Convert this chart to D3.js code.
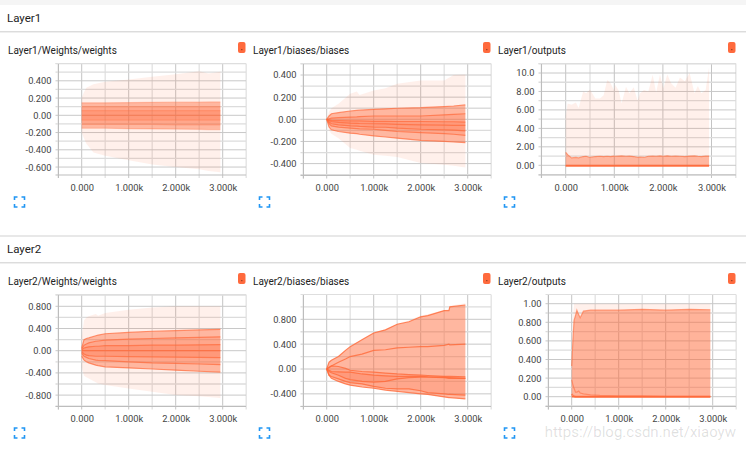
<!DOCTYPE html>
<html><head><meta charset="utf-8">
<script src="https://cdn.jsdelivr.net/npm/d3@7"></script>
<style>
html,body{margin:0;padding:0;background:#fff;width:746px;height:450px;overflow:hidden}
text{font-family:Roboto,"Liberation Sans",sans-serif}
</style></head><body><svg id="c" width="746" height="450"></svg>
<script>
const sectionNames = ["Layer1","Layer2"];
const xTickValues = [0,1000,2000,3000];
const xTickLabels = ["0.000","1.000k","2.000k","3.000k"];

// Layer1/Weights/weights
const w1Steps = [0,50,100,250,500,1000,1500,2000,2500,2700,2950];
const w1Max = [0.2,0.27,0.32,0.36,0.39,0.415,0.447,0.475,0.51,0.485,0.505];
const w1P93 = [0.145,0.145,0.145,0.145,0.145,0.148,0.15,0.152,0.154,0.155,0.155];
const w1P84 = [0.1,0.1,0.1,0.1,0.1,0.1,0.1,0.1,0.1,0.1,0.1];
const w1P69 = [0.055,0.055,0.055,0.055,0.055,0.055,0.055,0.055,0.055,0.055,0.055];
const w1P50 = [0,0,0,0,0,0,0,0,0,0,0];
const w1P31 = [-0.055,-0.055,-0.055,-0.055,-0.055,-0.055,-0.055,-0.055,-0.055,-0.055,-0.055];
const w1P16 = [-0.105,-0.105,-0.105,-0.105,-0.105,-0.105,-0.105,-0.11,-0.11,-0.11,-0.11];
const w1P7 = [-0.15,-0.15,-0.15,-0.15,-0.15,-0.155,-0.158,-0.16,-0.163,-0.165,-0.165];
const w1Min = [-0.2,-0.27,-0.33,-0.43,-0.47,-0.52,-0.57,-0.6,-0.625,-0.645,-0.66];

// Layer1/biases/biases
const b1Steps = [0,50,100,250,500,640,700,1000,1250,1500,2000,2500,2700,2950];
const b1Max = [0,0.07,0.1,0.14,0.23,0.25,0.22,0.26,0.28,0.32,0.35,0.35,0.4,0.405];
const b1P93 = [0,0.03,0.05,0.06,0.075,0.08,0.082,0.09,0.095,0.1,0.105,0.115,0.12,0.13];
const b1P84 = [0,0.005,0.01,0.015,0.02,0.022,0.025,0.03,0.03,0.03,0.03,0.04,0.045,0.05];
const b1P69 = [0,-0.005,-0.01,-0.012,-0.015,-0.015,-0.015,-0.018,-0.018,-0.02,-0.02,-0.022,-0.022,-0.025];
const b1P50 = [0,-0.012,-0.02,-0.028,-0.035,-0.037,-0.038,-0.04,-0.042,-0.045,-0.05,-0.052,-0.054,-0.055];
const b1P31 = [0,-0.025,-0.04,-0.05,-0.06,-0.062,-0.064,-0.07,-0.072,-0.08,-0.09,-0.095,-0.098,-0.105];
const b1P16 = [0,-0.04,-0.06,-0.07,-0.08,-0.085,-0.087,-0.09,-0.1,-0.11,-0.12,-0.13,-0.135,-0.145];
const b1P7 = [0,-0.07,-0.095,-0.11,-0.125,-0.13,-0.135,-0.15,-0.16,-0.17,-0.19,-0.2,-0.205,-0.21];
const b1Min = [0,-0.1,-0.13,-0.17,-0.26,-0.275,-0.285,-0.32,-0.33,-0.34,-0.395,-0.41,-0.42,-0.435];

// Layer1/outputs
const o1Steps = [0,40,120,210,265,360,420,500,610,705,780,855,925,990,1020,1090,1150,1240,1310,1400,1480,1530,1610,1700,1790,1860,1940,2010,2090,2170,2260,2350,2450,2550,2650,2720,2790,2880,2950];
const o1Max = [5.3,6.7,6.55,6.8,6.2,8.0,7.8,8.2,7.25,7.25,7.6,9.25,8.9,8.15,8.7,8.1,6.7,8.5,7.8,8.45,7,7.8,8.15,8.0,9.8,7.9,9.85,8.35,9.85,8.9,8.4,9.5,9.1,10,7.8,8.6,7.8,8.15,10.6];
const o1P93 = [1.4,1.15,0.8,0.85,0.8,0.95,0.98,0.85,0.95,0.98,0.95,0.98,0.95,1.0,0.98,1.0,1.02,0.98,1.0,0.95,0.85,0.9,0.85,0.98,1.0,0.98,1.02,0.98,1.03,0.98,1.0,0.98,0.95,1.0,1.02,0.98,0.95,1.0,1.0];
const o1P50 = o1Steps.map(() => 0);
const o1Min = o1Steps.map(() => -0.1);

// Layer2/Weights/weights
const w2Steps = [0,50,100,150,300,350,500,1000,1500,2000,2500,2950];
const w2Max = [0.25,0.55,0.6,0.62,0.66,0.63,0.68,0.74,0.78,0.8,0.8,0.8];
const w2P93 = [0.05,0.2,0.22,0.23,0.27,0.28,0.305,0.33,0.35,0.36,0.375,0.385];
const w2P84 = [0.03,0.1,0.12,0.14,0.17,0.175,0.19,0.21,0.22,0.23,0.24,0.25];
const w2P69 = [0.01,0.05,0.06,0.07,0.08,0.08,0.09,0.09,0.1,0.1,0.105,0.11];
const w2P50 = [0,0,0,0,0,0,0,0,0,0,0,0];
const w2P31 = [-0.02,-0.06,-0.08,-0.09,-0.1,-0.1,-0.1,-0.105,-0.11,-0.115,-0.12,-0.125];
const w2P16 = [-0.05,-0.1,-0.12,-0.14,-0.17,-0.175,-0.18,-0.2,-0.22,-0.23,-0.24,-0.25];
const w2P7 = [-0.1,-0.17,-0.2,-0.22,-0.26,-0.27,-0.29,-0.31,-0.33,-0.35,-0.37,-0.385];
const w2Min = [-0.3,-0.45,-0.48,-0.5,-0.57,-0.59,-0.62,-0.68,-0.74,-0.8,-0.82,-0.85];

// Layer2/biases/biases
const b2Steps = [0,50,100,250,400,500,750,1000,1250,1500,1750,2000,2150,2500,2600,2620,2950];
const b2Max = [0,0.12,0.15,0.21,0.31,0.37,0.48,0.59,0.64,0.73,0.78,0.86,0.88,0.95,0.96,1.02,1.06];
const b2P93 = [0,0.11,0.14,0.2,0.3,0.36,0.47,0.58,0.63,0.72,0.76,0.84,0.86,0.94,0.94,1.0,1.03];
const b2P84 = [0,0.02,0.05,0.11,0.16,0.2,0.24,0.3,0.31,0.34,0.35,0.36,0.36,0.38,0.4,0.39,0.4];
const b2P69 = [0,0.03,0.05,0.04,0.01,-0.02,-0.04,-0.05,-0.065,-0.08,-0.09,-0.1,-0.105,-0.12,-0.12,-0.12,-0.125];
const b2P50 = [0,-0.02,-0.04,-0.045,-0.05,-0.05,-0.08,-0.1,-0.11,-0.12,-0.12,-0.12,-0.125,-0.13,-0.14,-0.14,-0.15];
const b2P31 = [0,-0.04,-0.06,-0.1,-0.15,-0.17,-0.2,-0.21,-0.2,-0.16,-0.14,-0.13,-0.13,-0.14,-0.15,-0.15,-0.15];
const b2P16 = [0,-0.1,-0.12,-0.16,-0.2,-0.22,-0.24,-0.28,-0.31,-0.32,-0.32,-0.35,-0.38,-0.4,-0.41,-0.41,-0.42];
const b2P7 = [0,-0.1,-0.15,-0.2,-0.24,-0.26,-0.29,-0.31,-0.34,-0.36,-0.38,-0.4,-0.41,-0.45,-0.46,-0.46,-0.48];
const b2Min = [0,-0.1,-0.15,-0.2,-0.24,-0.26,-0.29,-0.31,-0.34,-0.36,-0.38,-0.4,-0.41,-0.45,-0.46,-0.46,-0.48];

// Layer2/outputs
const o2Steps = [0,25,50,80,110,150,180,250,400,600,1000,1500,2000,2500,2950];
const o2Max = [0.33,0.85,1,1,1,1,1,1,1,1,1,1,1,1,1];
const o2P93 = [0.33,0.6,0.82,0.87,0.93,0.88,0.85,0.92,0.93,0.93,0.93,0.94,0.93,0.94,0.935];
const o2P16 = [0.18,0.13,0.09,0.05,0.05,0.06,0.04,0.03,0.02,0.015,0.01,0.01,0.005,0.005,0.005];
const o2P7 = [0.03,0.01,0.005,0,0,0,0,0,0,0,0,0,0,0,0];
const o2Min = [0,0,0,0,0,0,0,0,0,0,0,0,0,0,0];

const weightTicks = [-0.6,-0.4,-0.2,0,0.2,0.4];
const weightLabels = ["-0.600","-0.400","-0.200","0.00","0.200","0.400"];
const biasTicks = [-0.4,-0.2,0,0.2,0.4];
const biasLabels = ["-0.400","-0.200","0.00","0.200","0.400"];
const outTicks = [0,2,4,6,8,10];
const outLabels = ["0.00","2.00","4.00","6.00","8.00","10.0"];
const w2Ticks = [-0.8,-0.4,0,0.4,0.8];
const w2Labels = ["-0.800","-0.400","0.00","0.400","0.800"];
const b2Ticks = [-0.4,0,0.4,0.8];
const b2Labels = ["-0.400","0.00","0.400","0.800"];
const o2Ticks = [0,0.2,0.4,0.6,0.8,1];
const o2Labels = ["0.00","0.200","0.400","0.600","0.800","1.00"];

const svg = d3.select("#c");
const INK = "#ff6a3a";

// page background and section headers
const hdrTop = [6,237];
svg.append("rect").attr("width",746).attr("height",5).attr("fill","#f5f5f5");
sectionNames.forEach((s,i)=>{
  if(i) svg.append("rect").attr("x",0).attr("y",hdrTop[i]-2).attr("width",746).attr("height",2).attr("fill","#e8e8e8");
  svg.append("rect").attr("x",0).attr("y",hdrTop[i]+25).attr("width",746).attr("height",1).attr("fill","#dcdcdc");
  svg.append("rect").attr("x",0).attr("y",hdrTop[i]+26).attr("width",746).attr("height",1).attr("fill","#efefef");
  svg.append("text").attr("x",7).attr("y",hdrTop[i]+16).attr("font-size",11.5).attr("fill","#222").text(s);
});

function panel(o){
  const x = d3.scaleLinear().domain([0,1000]).range([o.x0,o.x1000]);
  const y = d3.scaleLinear().domain([o.v0,o.v1]).range([o.y0,o.y1]);
  const L=o.left,R=o.right,T=o.top,B=o.bottom;
  const g = svg.append("g");
  g.append("text").attr("x",o.titleX).attr("y",o.titleY).attr("font-size",10).attr("fill","#222").text(o.title);
  // grid: minor then major
  const xv = d3.range(-500,3501,500).filter(v=>x(v)>=L-1&&x(v)<=R+1);
  xv.forEach(v=>{
    const major=v%1000===0;
    g.append("line").attr("x1",x(v)).attr("x2",x(v)).attr("y1",T).attr("y2",B+3)
     .attr("stroke",major?"#c4c4c4":"#e4e4e4").attr("stroke-width",major?1:1.4);
  });
  const step=o.ticks[1]-o.ticks[0];
  const minor=[];
  for(let v=o.ticks[0]-step*2;v<=o.ticks[o.ticks.length-1]+step*2+1e-9;v+=step/2){
    const p=y(v); if(p>=T&&p<=B) minor.push(v);
  }
  minor.forEach(v=>{
    const isMajor=o.ticks.some(t=>Math.abs(t-v)<1e-6);
    g.append("line").attr("x1",L-3).attr("x2",R).attr("y1",y(v)).attr("y2",y(v))
     .attr("stroke",isMajor?"#c8c8c8":"#dcdcdc").attr("stroke-width",isMajor?1:1.3);
  });
  g.append("line").attr("x1",L).attr("x2",L).attr("y1",T).attr("y2",B+3).attr("stroke","#bdbdbd");
  g.append("line").attr("x1",L-3).attr("x2",R).attr("y1",T).attr("y2",T).attr("stroke","#dedede");
  g.append("line").attr("x1",L-3).attr("x2",R).attr("y1",B).attr("y2",B).attr("stroke","#bdbdbd");
  // bands
  const s=o.steps;
  const area=(a,b)=>d3.area().x((d,i)=>x(s[i])).y0((d,i)=>y(a[i])).y1((d,i)=>y(b[i]));
  o.bands.forEach(b=>{
    g.append("path").attr("d",area(b.lo,b.hi)(s)).attr("fill",INK).attr("fill-opacity",b.op);
  });
  const line=a=>d3.line().x((d,i)=>x(s[i])).y((d,i)=>y(a[i]));
  o.lines.forEach(l=>{
    g.append("path").attr("d",line(l.v)(s)).attr("fill","none").attr("stroke",INK).attr("stroke-opacity",l.op).attr("stroke-width",l.w||1.2);
  });
  // axes labels
  const yAxis=d3.axisLeft(y).tickValues(o.ticks).tickFormat((d,i)=>o.labels[i]).tickSize(0).tickPadding(0);
  const ya=g.append("g").attr("transform",`translate(${L-7},0)`).call(yAxis);
  ya.select(".domain").remove();
  ya.selectAll("text").attr("font-size",9.3).attr("fill","#444").style("font-family","Roboto,sans-serif");
  const xAxis=d3.axisBottom(x).tickValues(xTickValues).tickFormat((d,i)=>xTickLabels[i]).tickSize(0).tickPadding(0);
  const xa=g.append("g").attr("transform",`translate(0,${B+9})`).call(xAxis);
  xa.select(".domain").remove();
  xa.selectAll("text").attr("font-size",9.3).attr("fill","#444").style("font-family","Roboto,sans-serif");
  // orange run button
  g.append("rect").attr("x",o.btnX).attr("y",o.titleY-11.5).attr("width",7.5).attr("height",11).attr("rx",2).attr("fill","#ff6a3d");
  g.append("rect").attr("x",o.btnX+3.2).attr("y",o.titleY-4.5).attr("width",1.2).attr("height",1.2).attr("fill","#8a3a20");
  // blue expand icon
  const ix=o.titleX+6.5,iy=o.B2;
  const c=d3.path();
  [[0,3,0,0,3,0],[7,0,10,0,10,3],[10,7,10,10,7,10],[3,10,0,10,0,7]].forEach(p=>{
    c.moveTo(ix+p[0],iy+p[1]);c.lineTo(ix+p[2],iy+p[3]);c.lineTo(ix+p[4],iy+p[5]);
  });
  g.append("path").attr("d",c.toString()).attr("fill","none").attr("stroke","#2196f3").attr("stroke-width",1.6);
}

const colX=[
 {titleX:8,left:58.5,right:246,x0:81.7,x1000:128.7,btnX:238},
 {titleX:253,left:303.5,right:491,x0:326.7,x1000:373.7,btnX:483},
 {titleX:498,left:541.5,right:736,x0:565.7,x1000:614.3,btnX:728}
];
const bands=(mx,p93,p84,p69,p50,p31,p16,p7,mn)=>[
 {lo:mn,hi:mx,op:0.1},
 {lo:p7,hi:p93,op:0.42},
 {lo:p16,hi:p84,op:0.2},
 {lo:p31,hi:p69,op:0.22}
];
const lines=(op,...a)=>a.map(v=>({v,op}));

panel({...colX[0],title:"Layer1/Weights/weights",titleY:53.5,top:63.5,bottom:175,B2:197,
 v0:0,v1:0.4,y0:115.3,y1:80.8,ticks:weightTicks,labels:weightLabels,steps:w1Steps,
 bands:bands(w1Max,w1P93,w1P84,w1P69,w1P50,w1P31,w1P16,w1P7,w1Min),
 lines:lines(0.3,w1P93,w1P84,w1P69,w1P50,w1P31,w1P16,w1P7)});
panel({...colX[1],title:"Layer1/biases/biases",titleY:53.5,top:63.5,bottom:175.5,B2:197,
 v0:0,v1:0.4,y0:119.3,y1:75,ticks:biasTicks,labels:biasLabels,steps:b1Steps,
 bands:bands(b1Max,b1P93,b1P84,b1P69,b1P50,b1P31,b1P16,b1P7,b1Min),
 lines:lines(0.7,b1P93,b1P84,b1P69,b1P50,b1P31,b1P16,b1P7)});
panel({...colX[2],title:"Layer1/outputs",titleY:53.5,top:63.5,bottom:175,B2:197,
 v0:0,v1:10,y0:165.3,y1:73,ticks:outTicks,labels:outLabels,steps:o1Steps,
 bands:[{lo:o1Min,hi:o1Max,op:0.1},{lo:o1Min,hi:o1P93,op:0.42},{lo:o1Min,hi:o1P50,op:0.6}],
 lines:[{v:o1P93,op:0.6},{v:o1P50,op:0.8},{v:o1Min,op:0.8}]});

panel({...colX[0],title:"Layer2/Weights/weights",titleY:284.5,top:294.5,bottom:406.5,B2:428,
 v0:0,v1:0.8,y0:350.7,y1:306.3,ticks:w2Ticks,labels:w2Labels,steps:w2Steps,
 bands:bands(w2Max,w2P93,w2P84,w2P69,w2P50,w2P31,w2P16,w2P7,w2Min),
 lines:lines(0.7,w2P93,w2P84,w2P69,w2P50,w2P31,w2P16,w2P7)});
panel({...colX[1],title:"Layer2/biases/biases",titleY:284.5,top:294.5,bottom:406.5,B2:428,
 v0:0,v1:0.8,y0:369,y1:319.3,ticks:b2Ticks,labels:b2Labels,steps:b2Steps,
 bands:[{lo:b2Min,hi:b2Max,op:0.1},{lo:b2P7,hi:b2P93,op:0.42},{lo:b2P16,hi:b2P69,op:0.2},{lo:b2P31,hi:b2P50,op:0.2}],
 lines:lines(0.8,b2P93,b2P84,b2P69,b2P50,b2P31,b2P16,b2P7)});
panel({titleX:498,left:548.5,right:736,x0:571.7,x1000:618.7,btnX:728,title:"Layer2/outputs",titleY:284.5,top:294.5,bottom:406.5,B2:428,
 v0:0,v1:1,y0:396.7,y1:303.7,ticks:o2Ticks,labels:o2Labels,steps:o2Steps,
 bands:[{lo:o2Min,hi:o2Max,op:0.1},{lo:o2P7,hi:o2P93,op:0.46}],
 lines:[{v:o2P93,op:0.6},{v:o2P16,op:0.55},{v:o2P7,op:0.7,w:2},{v:o2Min,op:0.95,w:1.6}]});

// watermark
svg.append("text").attr("x",736).attr("y",437).attr("text-anchor","end").attr("font-size",15).attr("fill","#000").attr("fill-opacity",0.13).attr("font-family","Liberation Sans,sans-serif").text("https://blog.csdn.net/xiaoyw");
</script></body></html>
